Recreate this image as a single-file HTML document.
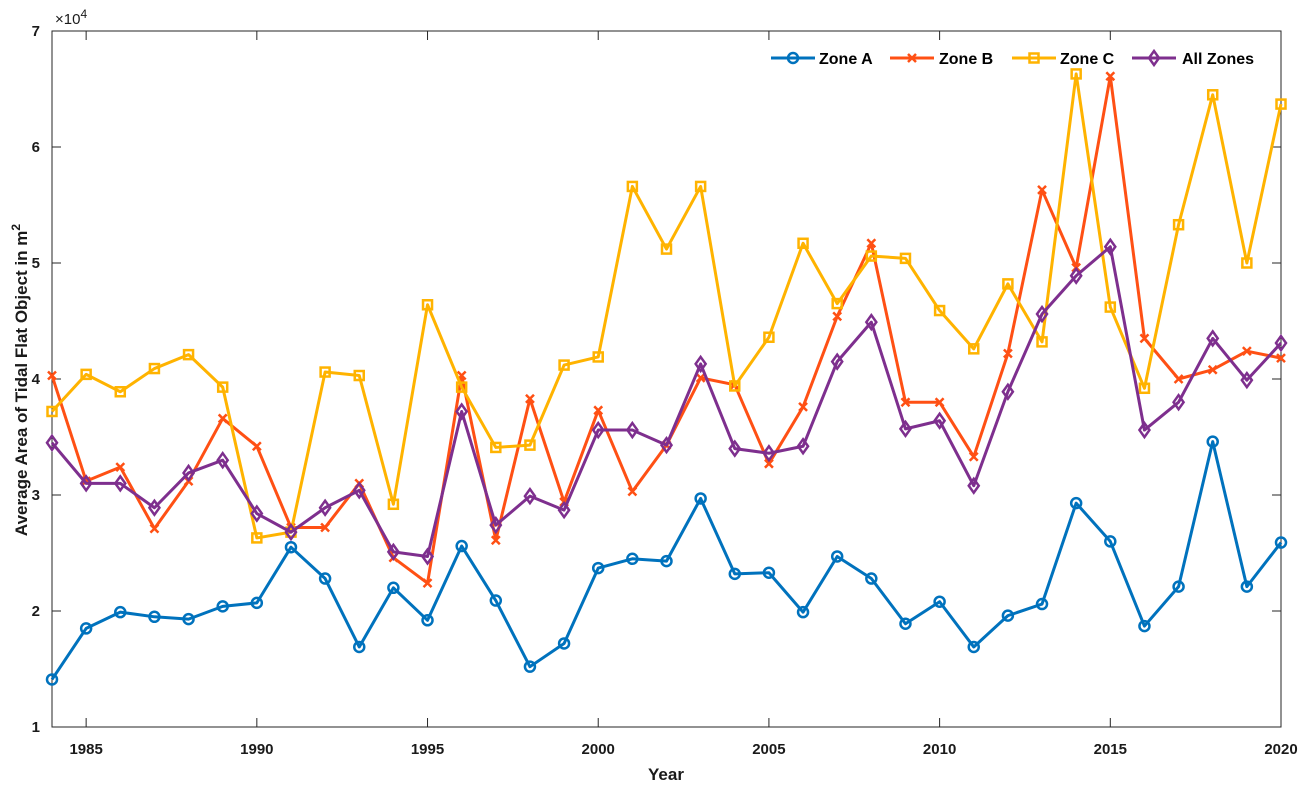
<!DOCTYPE html>
<html><head><meta charset="utf-8">
<style>
html,body{margin:0;padding:0;background:#fff;}
svg{display:block;font-family:"Liberation Sans",Arial,sans-serif;}
</style></head>
<body>
<svg id="chart" width="1309" height="785" viewBox="0 0 1309 785" xmlns="http://www.w3.org/2000/svg">
<g id="axes"></g>
<g id="series"></g>
<g id="legend"></g>
</svg>
<script>
const years = [1984,1985,1986,1987,1988,1989,1990,1991,1992,1993,1994,1995,1996,1997,1998,1999,2000,2001,2002,2003,2004,2005,2006,2007,2008,2009,2010,2011,2012,2013,2014,2015,2016,2017,2018,2019,2020];
const zoneA = [1.41,1.85,1.99,1.95,1.93,2.04,2.07,2.55,2.28,1.69,2.20,1.92,2.56,2.09,1.52,1.72,2.37,2.45,2.43,2.97,2.32,2.33,1.99,2.47,2.28,1.89,2.08,1.69,1.96,2.06,2.93,2.60,1.87,2.21,3.46,2.21,2.59];
const zoneB = [4.03,3.12,3.24,2.71,3.12,3.66,3.42,2.72,2.72,3.10,2.46,2.24,4.03,2.61,3.83,2.94,3.73,3.03,3.43,4.01,3.95,3.27,3.76,4.54,5.17,3.80,3.80,3.33,4.22,5.63,4.96,6.61,4.35,4.00,4.08,4.24,4.18];
const zoneC = [3.72,4.04,3.89,4.09,4.21,3.93,2.63,2.68,4.06,4.03,2.92,4.64,3.93,3.41,3.43,4.12,4.19,5.66,5.12,5.66,3.94,4.36,5.17,4.65,5.06,5.04,4.59,4.26,4.82,4.32,6.63,4.62,3.92,5.33,6.45,5.00,6.37];
const allZones = [3.45,3.10,3.10,2.89,3.19,3.30,2.84,2.68,2.89,3.04,2.51,2.47,3.72,2.74,2.99,2.87,3.56,3.56,3.43,4.13,3.40,3.36,3.42,4.15,4.49,3.57,3.64,3.08,3.89,4.56,4.89,5.14,3.56,3.80,4.35,3.99,4.31];
const xTicks = [1985,1990,1995,2000,2005,2010,2015,2020];
const yTicks = [1,2,3,4,5,6,7];

const NS="http://www.w3.org/2000/svg";
const L=52, R=1281, T=31, B=727;
const xMin=1984, xMax=2020, yMin=1, yMax=7;
function xs(v){return L+(v-xMin)/(xMax-xMin)*(R-L);}
function ys(v){return B-(v-yMin)/(yMax-yMin)*(B-T);}
function mk(tag,attrs,parent){const e=document.createElementNS(NS,tag);for(const k in attrs)e.setAttribute(k,attrs[k]);parent.appendChild(e);return e;}

const axes=document.getElementById('axes');
const box=mk('rect',{x:L,y:T,width:R-L,height:B-T,fill:'none',stroke:'#262626','stroke-width':1},axes);


xTicks.forEach(t=>{
  const x=xs(t);
  const tk=mk('path',{d:`M${x},${B}V${B-9}M${x},${T}V${T+9}`,stroke:'#262626','stroke-width':1},axes);
  
  
  const lb=mk('text',{x:x,y:B+27,'text-anchor':'middle','font-size':15,'font-weight':'bold',fill:'#1a1a1a'},axes);
  lb.textContent=t;
  
  
});
yTicks.forEach(t=>{
  const y=ys(t);
  const tk=mk('path',{d:`M${L},${y}H${L+9}M${R},${y}H${R-9}`,stroke:'#262626','stroke-width':1},axes);
  
  
  const lb=mk('text',{x:L-12,y:y+5,'text-anchor':'end','font-size':15,'font-weight':'bold',fill:'#1a1a1a'},axes);
  lb.textContent=t;
  
  
});
const exp=mk('text',{x:55,y:24,'font-size':15,fill:'#1a1a1a'},axes);
exp.innerHTML='×10<tspan dy="-6" font-size="12">4</tspan>';


const xt=mk('text',{x:666,y:780,'text-anchor':'middle','font-size':17,'font-weight':'bold',fill:'#1a1a1a'},axes);
xt.textContent='Year';


const yt=mk('text',{x:0,y:0,'text-anchor':'middle','font-size':17,'font-weight':'bold',fill:'#1a1a1a',transform:'translate(27,380) rotate(-90)'},axes);
yt.innerHTML='Average Area of Tidal Flat Object in m<tspan dy="-7" font-size="12">2</tspan>';



function marker(type,x,y,color,parent){
  let e;
  if(type==='o') e=mk('circle',{cx:x,cy:y,r:5,fill:'none',stroke:color,'stroke-width':2.5},parent);
  else if(type==='x') e=mk('path',{d:`M${x-4},${y-4}L${x+4},${y+4}M${x-4},${y+4}L${x+4},${y-4}`,stroke:color,'stroke-width':2.5},parent);
  else if(type==='s') e=mk('rect',{x:x-4.5,y:y-4.5,width:9,height:9,fill:'none',stroke:color,'stroke-width':2.5},parent);
  else e=mk('path',{d:`M${x},${y-7}L${x+5},${y}L${x},${y+7}L${x-5},${y}Z`,fill:'none',stroke:color,'stroke-width':2.5},parent);
  return e;
}
const seriesDefs=[
  {name:'Zone A',vals:zoneA,color:'#0072BD',m:'o',id:'zone-a'},
  {name:'Zone B',vals:zoneB,color:'#FF5014',m:'x',id:'zone-b'},
  {name:'Zone C',vals:zoneC,color:'#FFB300',m:'s',id:'zone-c'},
  {name:'All Zones',vals:allZones,color:'#7E2F8E',m:'d',id:'all-zones'}
];
const sg=document.getElementById('series');
seriesDefs.forEach(s=>{
  const g=mk('g',{},sg);
  
  
  const pts=years.map((yr,i)=>xs(yr)+','+ys(s.vals[i])).join(' ');
  const pl=mk('polyline',{points:pts,fill:'none',stroke:s.color,'stroke-width':3,'stroke-linejoin':'round'},g);
  
  
  years.forEach((yr,i)=>{
    const m=marker(s.m,xs(yr),ys(s.vals[i]),s.color,g);
    
    
  });
});
const lg=document.getElementById('legend');
const legPos=[[771,819],[890,939],[1012,1060],[1132,1182]];
seriesDefs.forEach((s,i)=>{
  const g=mk('g',{},lg);
  
  
  const [lx,tx]=legPos[i];
  const ly=58;
  mk('line',{x1:lx,y1:ly,x2:lx+44,y2:ly,stroke:s.color,'stroke-width':3},g);
  marker(s.m,lx+22,ly,s.color,g);
  const t=mk('text',{x:tx,y:ly+6,'font-size':16,'font-weight':'bold',fill:'#000'},g);
  t.textContent=s.name;
});
</script>
</body></html>
